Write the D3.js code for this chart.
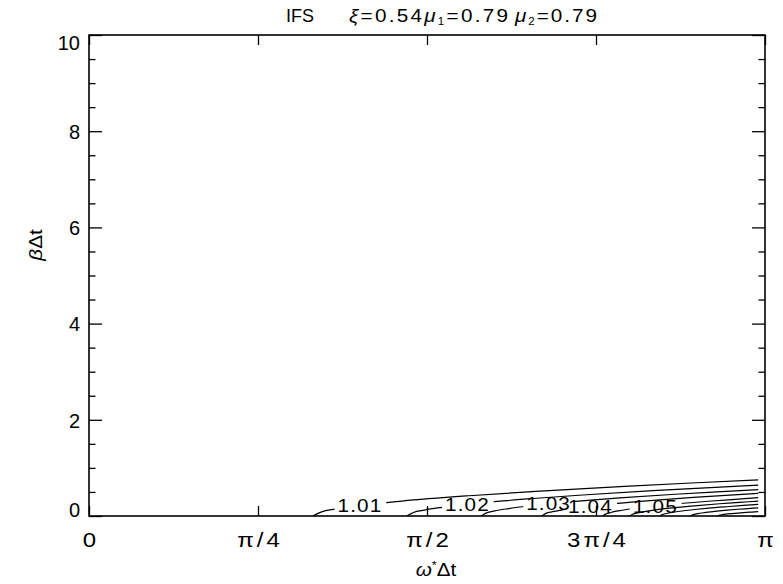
<!DOCTYPE html>
<html>
<head>
<meta charset="utf-8">
<script src="https://cdn.jsdelivr.net/npm/d3@7"></script>
<style>
  html, body { margin: 0; padding: 0; background: #fff; }
  svg { display: block; font-family: "Liberation Sans", Arial, sans-serif; }
  text { fill: #000; }
</style>
</head>
<body>
<svg id="chart" width="783" height="584"></svg>
<script>
// Contour levels of the amplification factor, each traced as [omega*dt / pi, beta*dt]
const c101 = [[0.331,0],[0.344,0.087],[0.364,0.144],[0.397,0.212],[0.463,0.310],[0.562,0.421],[0.661,0.512],[0.792,0.617],[0.891,0.686],[0.990,0.750]];
const c102 = [[0.470,0],[0.480,0.074],[0.496,0.123],[0.522,0.180],[0.574,0.264],[0.652,0.359],[0.730,0.437],[0.834,0.526],[0.912,0.585],[0.990,0.640]];
const c103 = [[0.580,0],[0.588,0.064],[0.600,0.106],[0.621,0.155],[0.662,0.227],[0.724,0.309],[0.785,0.376],[0.867,0.452],[0.929,0.503],[0.990,0.550]];
const c104 = [[0.670,0],[0.676,0.055],[0.686,0.090],[0.702,0.133],[0.734,0.194],[0.782,0.264],[0.830,0.321],[0.894,0.386],[0.942,0.430],[0.990,0.470]];
const c105 = [[0.760,0],[0.765,0.044],[0.772,0.073],[0.783,0.107],[0.806,0.157],[0.841,0.213],[0.875,0.260],[0.921,0.312],[0.956,0.347],[0.990,0.380]];
const c106 = [[0.800,0],[0.804,0.036],[0.810,0.060],[0.819,0.087],[0.838,0.128],[0.867,0.174],[0.895,0.212],[0.933,0.255],[0.962,0.283],[0.990,0.310]];
const c107 = [[0.845,0],[0.848,0.028],[0.852,0.046],[0.860,0.068],[0.874,0.099],[0.896,0.135],[0.917,0.164],[0.947,0.197],[0.968,0.219],[0.990,0.240]];
const c108 = [[0.890,0],[0.892,0.020],[0.895,0.033],[0.900,0.048],[0.910,0.070],[0.925,0.095],[0.940,0.116],[0.960,0.140],[0.975,0.155],[0.990,0.170]];
const c109 = [[0.930,0],[0.931,0.010],[0.933,0.017],[0.936,0.025],[0.942,0.037],[0.951,0.050],[0.960,0.061],[0.972,0.074],[0.981,0.082],[0.990,0.090]];

const contourLevels = [1.01, 1.02, 1.03, 1.04, 1.05, 1.06, 1.07, 1.08, 1.09];
const contourLines  = [c101, c102, c103, c104, c105, c106, c107, c108, c109];

// Levels that carry an inline label, and where along omega the label sits
const labelText  = ["1.01", "1.02", "1.03", "1.04", "1.05"];
const labelOmega = [0.400, 0.559, 0.679, 0.741, 0.837];

// Axis ticks
const xTickValues = [0, 0.25, 0.5, 0.75, 1];
const xTickLabels = ["0", "π/4", "π/2", "3π/4", "π"];
const yMajorTicks = [0, 2, 4, 6, 8, 10];
const yMinorTicks = [0.5, 1, 1.5, 2.5, 3, 3.5, 4.5, 5, 5.5, 6.5, 7, 7.5, 8.5, 9, 9.5];

(function () {
const svg = d3.select("#chart");
const pL = 89, pR = 765, pT = 35, pB = 516;

const x = d3.scaleLinear().domain([0, 1]).range([pL, pR]);
const y = d3.scaleLinear().domain([0, 10]).range([pB, pT]);

// open up the letter spacing a little (wide plotting-font look)
function spread(sel, gap) {
  sel.each(function () {
    const n = this.textContent.length;
    if (n < 2) return;
    const w = this.getComputedTextLength();
    d3.select(this).attr("textLength", w + gap * (n - 1)).attr("lengthAdjust", "spacing");
  });
}

function cleanAxis(g) {
  g.attr("font-size", null).attr("font-family", null);
  g.select(".domain").remove();
  g.selectAll(".tick line").attr("stroke", "#000").attr("stroke-width", 1.3);
}

// ---- axes ----
const xBottom = svg.append("g")
  .attr("transform", `translate(0,${pB})`)
  .call(d3.axisBottom(x).tickValues(xTickValues)
    .tickFormat((d, i) => xTickLabels[i])
    .tickSize(-10).tickSizeOuter(0).tickPadding(17));
cleanAxis(xBottom);
xBottom.selectAll(".tick text").attr("font-size", 20).attr("transform", "scale(1.2,1)");
spread(xBottom.selectAll(".tick text"), 2.5);

const xTop = svg.append("g")
  .attr("transform", `translate(0,${pT})`)
  .call(d3.axisTop(x).tickValues(xTickValues).tickFormat("").tickSize(-10).tickSizeOuter(0));
cleanAxis(xTop);

const yLeft = svg.append("g")
  .attr("transform", `translate(${pL},0)`)
  .call(d3.axisLeft(y).tickValues(yMajorTicks).tickFormat(d3.format("d"))
    .tickSize(-13).tickSizeOuter(0).tickPadding(9));
cleanAxis(yLeft);
yLeft.selectAll(".tick text")
  .attr("font-size", 20)
  .attr("dy", "0.36em")
  .attr("y", d => Math.max(pT + 7.5, Math.min(pB - 6.5, y(d))) - y(d));

const yLeftMinor = svg.append("g")
  .attr("transform", `translate(${pL},0)`)
  .call(d3.axisLeft(y).tickValues(yMinorTicks).tickFormat("").tickSize(-6.5).tickSizeOuter(0));
cleanAxis(yLeftMinor);

const yRight = svg.append("g")
  .attr("transform", `translate(${pR},0)`)
  .call(d3.axisRight(y).tickValues(yMajorTicks).tickFormat("").tickSize(-13).tickSizeOuter(0));
cleanAxis(yRight);

const yRightMinor = svg.append("g")
  .attr("transform", `translate(${pR},0)`)
  .call(d3.axisRight(y).tickValues(yMinorTicks).tickFormat("").tickSize(-6.5).tickSizeOuter(0));
cleanAxis(yRightMinor);

// plot frame
svg.append("rect")
  .attr("x", pL).attr("y", pT)
  .attr("width", pR - pL).attr("height", pB - pT)
  .attr("fill", "none").attr("stroke", "#000").attr("stroke-width", 1.6);

// ---- contours ----
const defs = svg.append("defs");
defs.append("clipPath").attr("id", "plotArea")
  .append("rect").attr("x", pL).attr("y", pT)
  .attr("width", pR - pL).attr("height", pB - pT);

const line = d3.line()
  .x(d => x(d[0]))
  .y(d => y(d[1]))
  .curve(d3.curveMonotoneX);

// beta of a traced contour at a given omega (linear between traced points)
function betaAt(pts, w) {
  const i = Math.max(1, Math.min(pts.length - 1, d3.bisector(d => d[0]).left(pts, w)));
  const a = pts[i - 1], b = pts[i];
  const t = (w - a[0]) / (b[0] - a[0]);
  return a[1] + t * (b[1] - a[1]);
}

const labelLayer = svg.append("g").attr("class", "contour-labels");
const boxes = [];
labelText.forEach((txt, i) => {
  const pts = contourLines[i];
  const lx = x(labelOmega[i]);
  const ly = y(betaAt(pts, labelOmega[i]));
  const g = labelLayer.append("g").attr("transform", `translate(${lx},${ly})`);
  const t = g.append("text")
    .attr("transform", "scale(1.15,1)")
    .attr("dy", "0.36em")
    .attr("text-anchor", "middle")
    .attr("font-size", 18)
    .text(txt);
  spread(t, 1);
  const bb = t.node().getBBox();
  boxes.push({ x: lx + bb.x * 1.15, y: ly + bb.y, width: bb.width * 1.15, height: bb.height });
});

const lineLayer = svg.append("g").attr("clip-path", "url(#plotArea)");
contourLines.forEach((pts, i) => {
  const path = lineLayer.append("path")
    .datum(pts)
    .attr("d", line)
    .attr("fill", "none")
    .attr("stroke", "#000")
    .attr("stroke-width", 1.2);
  if (i < boxes.length) {
    const bb = boxes[i];
    const m = defs.append("mask").attr("id", "gap" + i)
      .attr("maskUnits", "userSpaceOnUse")
      .attr("x", 0).attr("y", 0).attr("width", 783).attr("height", 584);
    m.append("rect").attr("x", 0).attr("y", 0).attr("width", 783).attr("height", 584).attr("fill", "#fff");
    m.append("rect")
      .attr("x", bb.x - 3).attr("y", bb.y - 2)
      .attr("width", bb.width + 8).attr("height", bb.height + 4)
      .attr("fill", "#000");
    path.attr("mask", `url(#gap${i})`);
  }
});

// ---- titles ----
// each piece is stretched horizontally from its left end to a set span
function titlePiece(x0, span, sx, build) {
  const g = svg.append("g").attr("transform", `translate(${x0},22) scale(${sx},1)`);
  const t = g.append("text").attr("x", 0).attr("y", 0).attr("font-size", 18);
  build(t);
  if (span) t.attr("textLength", span / sx).attr("lengthAdjust", "spacing");
}

titlePiece(286, 0, 1, t => t.text("IFS"));
titlePiece(349, 159, 1.15, t => {
  t.append("tspan").attr("font-style", "italic").text("ξ");
  t.append("tspan").text("=0.54");
  t.append("tspan").attr("font-style", "italic").text("μ");
  t.append("tspan").attr("font-size", 10).attr("dy", 3).text("1");
  t.append("tspan").attr("dy", -3).text("=0.79");
});
titlePiece(515, 82, 1.15, t => {
  t.append("tspan").attr("font-style", "italic").text("μ");
  t.append("tspan").attr("font-size", 10).attr("dy", 3).text("2");
  t.append("tspan").attr("dy", -3).text("=0.79");
});

// x axis title: omega* dt
const xt = svg.append("g").attr("transform", "translate(436,576) scale(1.15,1)")
  .append("text").attr("text-anchor", "middle").attr("font-size", 18);
xt.append("tspan").attr("font-style", "italic").text("ω");
xt.append("tspan").attr("font-size", 11).attr("dy", -7).text("*");
xt.append("tspan").attr("dy", 7).text("Δt");

// y axis title: beta dt
const yt = svg.append("text")
  .attr("transform", "translate(42,245) rotate(-90) scale(1.15,1)")
  .attr("text-anchor", "middle").attr("font-size", 18);
yt.append("tspan").attr("font-style", "italic").text("β");
yt.append("tspan").text("Δt");
})();
</script>
</body>
</html>
